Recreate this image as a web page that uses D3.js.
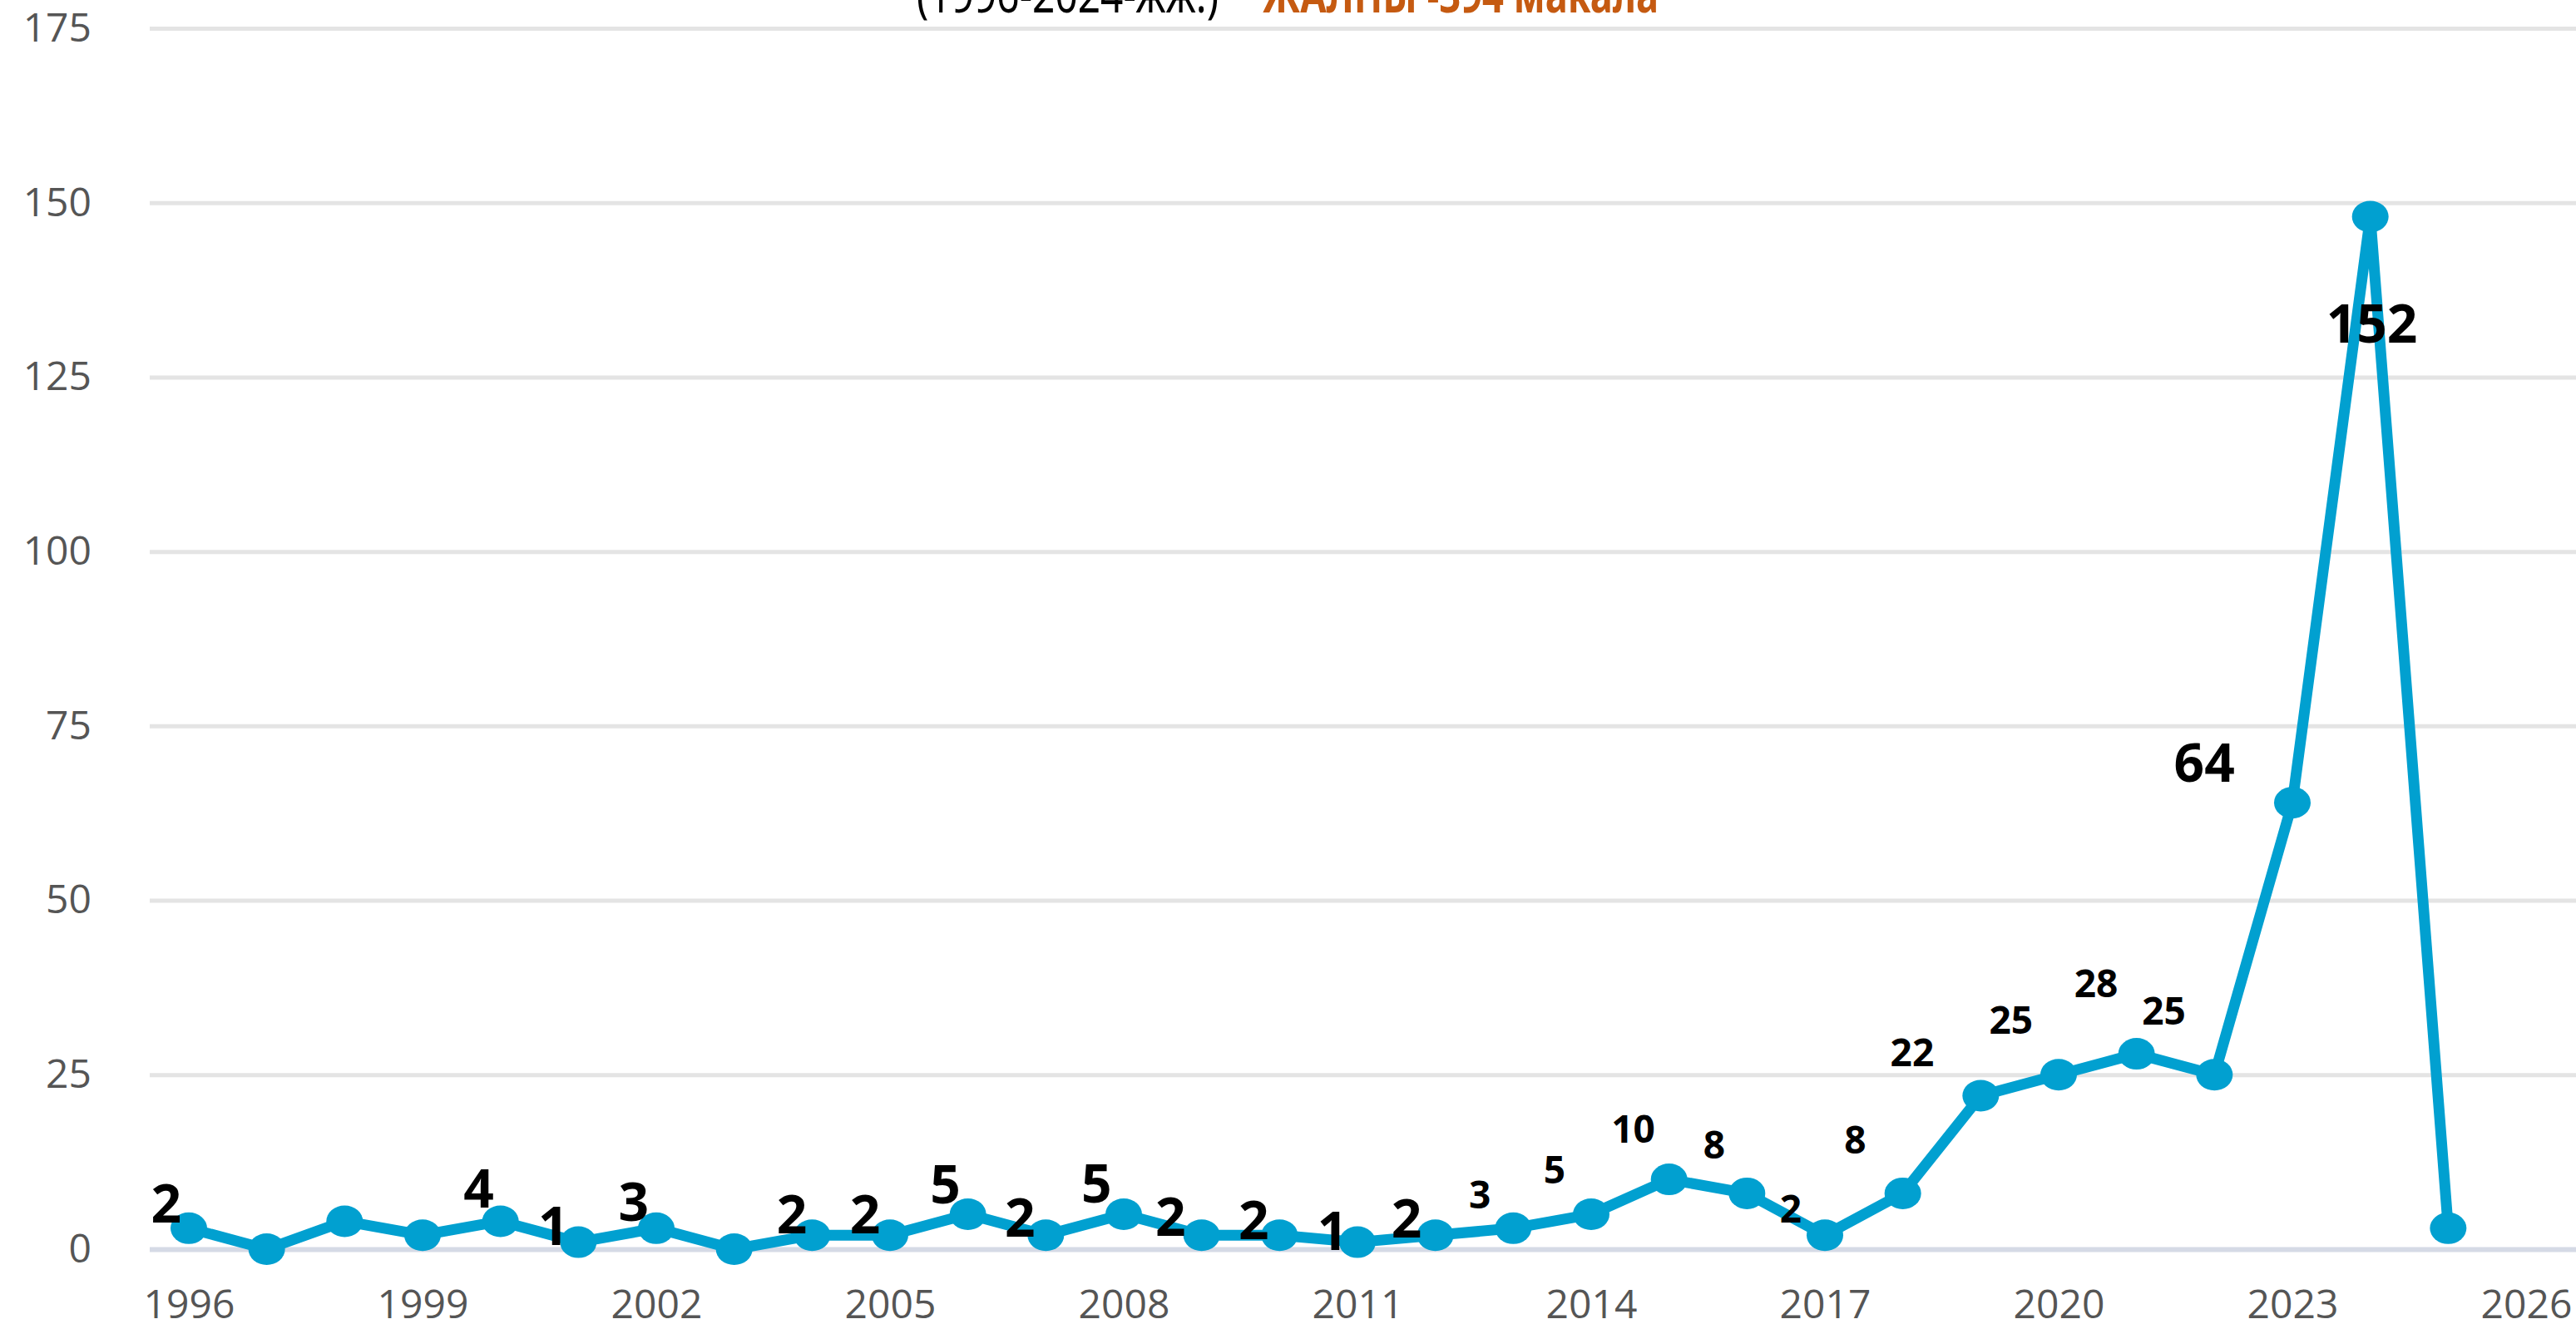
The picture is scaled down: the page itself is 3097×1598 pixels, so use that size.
<!DOCTYPE html>
<html lang="ky">
<head>
    <meta charset="UTF-8">
    <title>Макалалар жылдар боюнча</title>
    <script src="https://cdnjs.cloudflare.com/ajax/libs/d3/7.8.5/d3.min.js"></script>
    <style>
        body { margin: 0; background: #fff; }
        svg { display: block; }
        .grid line { stroke: #e4e4e4; stroke-width: 5; }
        .grid line.zero { stroke: #d5dae6; stroke-width: 6; }
        .axis text { font-family: "Open Sans", sans-serif; font-size: 48px; fill: #555; }
        .series { fill: none; stroke: #01a0d0; stroke-width: 13; stroke-linejoin: round; }
        .dot { fill: #01a0d0; }
        .lbl { font-family: "Noto Sans", sans-serif; font-weight: bold; fill: #000; text-anchor: middle; }
        .lbl.big { font-size: 64px; }
        .lbl.small { font-size: 46px; }
        .title { font-family: "Noto Sans", sans-serif; font-size: 60px; }
    </style>
</head>
<body>
<svg id="chart" width="3097" height="1598"></svg>
<script>
    // documents per year
    const years = [1996, 1997, 1998, 1999, 2000, 2001, 2002, 2003, 2004, 2005,
        2006, 2007, 2008, 2009, 2010, 2011, 2012, 2013, 2014, 2015,
        2016, 2017, 2018, 2019, 2020, 2021, 2022, 2023, 2024, 2025];
    const counts = [3, 0, 4, 2, 4, 1, 3, 0, 2, 2,
        5, 2, 5, 2, 2, 1, 2, 3, 5, 10,
        8, 2, 8, 22, 25, 28, 25, 64, 148, 3];

    const yTicks = [0, 25, 50, 75, 100, 125, 150, 175];
    const xTicks = [1996, 1999, 2002, 2005, 2008, 2011, 2014, 2017, 2020, 2023, 2026];

    // hand-typed annotations laid over the chart (anchor in year / value units)
    const labelText = ["2", "4", "1", "3", "2", "2", "5", "2", "5", "2", "2", "1", "2",
        "3", "5", "10", "8", "2", "8", "22", "25", "28", "25", "64", "152"];
    const labelYear = [1995.71, 1999.72, 2000.68, 2001.71, 2003.74, 2004.68, 2005.71, 2006.67, 2007.65,
        2008.60, 2009.67, 2010.68, 2011.63, 2012.57, 2013.53, 2014.54, 2015.58, 2016.56, 2017.39,
        2018.12, 2019.39, 2020.48, 2021.35, 2021.87, 2024.02];
    const labelLevel = [3.8, 6.0, 0.6, 4.05, 2.26, 2.26, 6.56, 1.79, 6.68, 1.91, 1.43, -0.12, 1.67,
        5.84, 9.42, 15.26, 12.99, 3.81, 13.71, 26.22, 30.87, 36.12, 32.18, 66.99, 129.93];
    const labelBig = [1, 1, 1, 1, 1, 1, 1, 1, 1, 1, 1, 1, 1,
        0, 0, 0, 0, 0, 0, 0, 0, 0, 0, 1, 1];

    const titleRange = "(1996-2024-жж.)";
    const titleTotal = "ЖАЛПЫ -394 макала";

    const W = 3097, H = 1598;
    const svg = d3.select("#chart");

    const x = d3.scaleLinear().domain([1996, 2026]).range([227, 3037]);
    const y = d3.scaleLinear().domain([0, 175]).range([1502, 34]);

    // horizontal grid + y labels
    const gridLeft = 180;
    const gy = svg.append("g")
        .attr("class", "grid axis")
        .attr("transform", `translate(${gridLeft},0)`)
        .call(d3.axisLeft(y).tickValues(yTicks).tickSize(-(W - gridLeft)).tickPadding(70));
    gy.select(".domain").remove();
    gy.selectAll(".tick line").classed("zero", d => d === 0);
    gy.selectAll(".tick text").attr("fill", null);

    // x labels
    const gx = svg.append("g")
        .attr("class", "axis")
        .attr("transform", `translate(0,${y(0)})`)
        .call(d3.axisBottom(x).tickValues(xTicks).tickFormat(d3.format("d")).tickSize(0).tickPadding(49));
    gx.select(".domain").remove();
    gx.selectAll(".tick text").attr("fill", null);

    // series
    const pts = years.map((yr, i) => ({year: yr, n: counts[i]}));
    svg.append("path")
        .datum(pts)
        .attr("class", "series")
        .attr("d", d3.line().x(d => x(d.year)).y(d => y(d.n)));

    svg.selectAll("ellipse.dot")
        .data(pts)
        .enter()
        .append("ellipse")
        .attr("class", "dot")
        .attr("cx", d => x(d.year))
        .attr("cy", d => y(d.n))
        .attr("rx", 22)
        .attr("ry", 19);

    // overlaid value labels
    const labels = labelText.map((t, i) => ({t, yr: labelYear[i], v: labelLevel[i], big: labelBig[i]}));
    svg.selectAll("text.lbl")
        .data(labels)
        .enter()
        .append("text")
        .attr("class", d => "lbl " + (d.big ? "big" : "small"))
        .attr("x", d => x(d.yr))
        .attr("y", d => y(d.v))
        .text(d => d.t);

    // title, cut off by the top edge
    svg.append("text")
        .attr("class", "title")
        .attr("x", 1102).attr("y", 15)
        .attr("textLength", 363).attr("lengthAdjust", "spacingAndGlyphs")
        .attr("fill", "#000")
        .text(titleRange);
    svg.append("text")
        .attr("class", "title")
        .attr("x", 1518).attr("y", 15)
        .attr("textLength", 476).attr("lengthAdjust", "spacingAndGlyphs")
        .attr("font-weight", "bold")
        .attr("fill", "#c55a11")
        .text(titleTotal);
</script>
</body>
</html>
